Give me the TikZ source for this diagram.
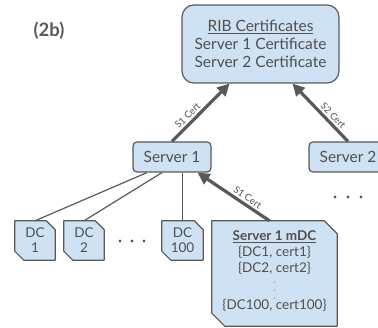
\documentclass[tikz,border=0pt]{standalone}
\usepackage{fontspec}
\setmainfont{Lato}
\usetikzlibrary{arrows.meta,calc,backgrounds}
\definecolor{boxfill}{HTML}{CFE2F3}
\definecolor{edge}{HTML}{595959}
\definecolor{txt}{HTML}{505050}
\begin{document}
\begin{tikzpicture}[x=1pt,y=-1pt,
  box/.style={draw=edge, fill=boxfill, line width=1.2pt, text=txt, align=center, inner sep=0pt},
  rbox/.style={box, rectangle, rounded corners=#1},
  cnode/.style={rectangle, draw=none, fill=none, text=txt, align=center, inner sep=0pt},
  chamf/.style={draw=edge, fill=boxfill, line width=1.2pt, line join=round},
  arr/.style={draw=edge, line width=3.2pt, -{Triangle[length=12pt,width=12pt]}},
  thin/.style={draw=edge, line width=1.2pt},
  lbl/.style={font=\fontsize{9.5}{10}\selectfont, text=txt, sloped, above, inner sep=2.2pt, pos=0.36},
  bigdot/.style={fill=edge},
  smalldot/.style={fill=txt!70}]
\clip (0,0) rectangle (378,328);

\node[text=edge, font=\fontsize{18.5}{20}\selectfont\bfseries] (title) at (49,31) {(2b)};

\node[rbox=12pt, minimum width=157pt, minimum height=78pt, font=\fontsize{15.5}{18}\selectfont] (rib) at (260.5,44)
  {\underline{RIB Certificates}\\Server 1 Certificate\\Server 2 Certificate};

\node[rbox=4pt, minimum width=78pt, minimum height=30pt, font=\fontsize{15.5}{17}\selectfont] (s1) at (172,157) {Server 1};
\node[rbox=4pt, minimum width=78pt, minimum height=30pt, font=\fontsize{15.5}{17}\selectfont] (s2) at (348,157) {Server 2};

\node[cnode, minimum width=40pt, minimum height=39pt, font=\fontsize{13.5}{15}\selectfont] (dc1) at (35,240.5) {DC\\1};
\node[cnode, minimum width=40pt, minimum height=39pt, font=\fontsize{13.5}{15}\selectfont] (dc2) at (84,240.5) {DC\\2};
\node[cnode, minimum width=41pt, minimum height=39pt, font=\fontsize{13.5}{15}\selectfont] (dc100) at (182.5,240.5) {DC\\100};
\node[cnode, minimum width=125pt, minimum height=105pt] (mdc) at (274.5,273.5) {};
\node[cnode, font=\fontsize{13.5}{16}\selectfont, anchor=north] (mdct) at ($(mdc.north)+(0,10)$)
  {\textbf{\underline{Server 1 mDC}}\\\{DC1, cert1\}\\\{DC2, cert2\}\\[21pt]\{DC100, cert100\}};

\begin{scope}[on background layer]
  \foreach \n/\c in {dc1/9,dc2/9,dc100/9,mdc/13}
    \draw[chamf] (\n.north west) -- ($(\n.north east)+(-\c,0)$) -- ($(\n.north east)+(0,\c)$)
      -- (\n.south east) -- ($(\n.south west)+(\c,0)$) -- ($(\n.south west)+(0,-\c)$) -- cycle;
\end{scope}

\foreach \x in {120,132,144} \fill[bigdot] (\x,241) circle (1.7);
\foreach \x in {335,348,361} \fill[bigdot] (\x,197) circle (1.7);
\foreach \y in {282,290,298} \fill[smalldot] (274.5,\y) circle (0.7);

\draw[thin] ($(s1.south)+(-25,0)$) -- (dc1.north);
\draw[thin] ($(s1.south)+(-10,0)$) -- (dc2.north);
\draw[thin] (dc100.north) -- (dc100.north |- s1.south);

\draw[arr] (s1.north) -- node[lbl] {S1 Cert} ($(rib.south)+(-31,0)$);
\draw[arr] (s2.north) -- node[lbl] {S2 Cert} ($(rib.south)+(32,0)$);
\draw[arr] ($(mdc.north)+(-5,0)$) -- node[lbl] {S1 Cert} ($(s1.south east)+(-14,0)$);
\end{tikzpicture}
\end{document}
